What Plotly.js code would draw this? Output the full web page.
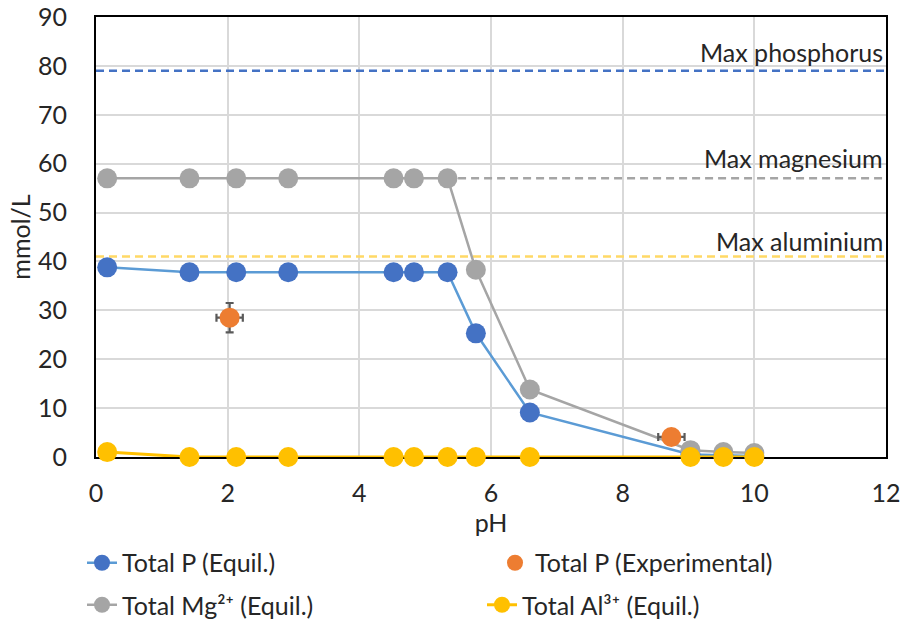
<!DOCTYPE html>
<html>
<head>
<meta charset="utf-8">
<script src="https://cdn.plot.ly/plotly-3.0.1.min.js"></script>
<style>html,body{margin:0;padding:0;background:#fff}#chart{width:903px;height:621px}</style>
</head>
<body>
<div id="chart"></div>
<script>
// Data
const pH = [0.17, 1.42, 2.13, 2.92, 4.52, 4.83, 5.34, 5.77, 6.59, 9.03, 9.53, 10.0];
const totalP = [38.8, 37.8, 37.8, 37.8, 37.8, 37.8, 37.8, 25.3, 9.1, 0.5, 0.3, 0.2];
const totalMg = [57, 57, 57, 57, 57, 57, 57, 38.3, 13.8, 1.4, 1.0, 0.8];
const totalAl = [1.0, 0, 0, 0, 0, 0, 0, 0, 0, 0, 0, 0];
const expPH = [2.03, 8.74];
const expP = [28.5, 4.1];
const expPHerr = [0.2, 0.2];
const expPerr = [3.0, 0.5];
const maxPX = [0, 12], maxPY = [79, 79];
const maxMgX = [5.5, 12], maxMgY = [57, 57];
const maxAlX = [0, 12], maxAlY = [41, 41];
const labels = ["Max phosphorus", "Max magnesium", "Max aluminium"];
const labelY = [82.8, 61.2, 44.2];

const FONT = "Lato, 'Open Sans', sans-serif";
const FS = 25;
const traces = [
  {x: maxPX, y: maxPY, mode: 'lines', line: {color: '#4472C4', width: 2.5, dash: '8px,5px'}, showlegend: false, hoverinfo: 'skip'},
  {x: maxMgX, y: maxMgY, mode: 'lines', line: {color: '#A5A5A5', width: 2.5, dash: '8px,5px'}, showlegend: false, hoverinfo: 'skip'},
  {x: maxAlX, y: maxAlY, mode: 'lines', line: {color: '#FFD966', width: 2.5, dash: '8px,5px'}, showlegend: false, hoverinfo: 'skip'},
  {x: pH, y: totalP, name: 'Total P (Equil.)', mode: 'lines+markers', legend: 'legend', legendrank: 1, cliponaxis: false,
   line: {color: '#5B9BD5', width: 2.5}, marker: {color: '#4472C4', size: 20}},
  {x: pH, y: totalMg, name: 'Total Mg²⁺ (Equil.)', mode: 'lines+markers', legend: 'legend2', legendrank: 1, cliponaxis: false,
   line: {color: '#A5A5A5', width: 2.5}, marker: {color: '#A5A5A5', size: 20}},
  {x: expPH, y: expP, name: 'Total P (Experimental)', mode: 'markers', legend: 'legend', legendrank: 2, cliponaxis: false,
   marker: {color: '#ED7D31', size: 20},
   error_x: {type: 'data', array: expPHerr, color: '#595959', thickness: 2.2, width: 4},
   error_y: {type: 'data', array: expPerr, color: '#595959', thickness: 2.2, width: 4}},
  {x: pH, y: totalAl, name: 'Total Al³⁺ (Equil.)', mode: 'lines+markers', legend: 'legend2', legendrank: 2, cliponaxis: false,
   line: {color: '#FFC000', width: 3}, marker: {color: '#FFC000', size: 20}}
];

const annotations = labels.map((t, i) => ({
  x: 12, y: labelY[i], xref: 'x', yref: 'y', text: t, showarrow: false,
  xanchor: 'right', yanchor: 'middle', xshift: -1,
  font: {family: FONT, size: FS, color: '#262626'}
}));

const legendBase = {
  orientation: 'h', x: -0.0177, xanchor: 'left', yanchor: 'middle',
  itemwidth: 30, tracegroupgap: 0, bgcolor: 'rgba(0,0,0,0)',
  font: {family: FONT, size: FS, color: '#262626'}
};

const layout = {
  width: 903, height: 621,
  margin: {l: 96, r: 17, t: 17, b: 164, autoexpand: false},
  paper_bgcolor: '#fff', plot_bgcolor: '#fff',
  font: {family: FONT, size: FS, color: '#262626'},
  xaxis: {
    range: [0, 12], dtick: 2, tick0: 0, layer: 'below traces',
    showgrid: true, gridcolor: '#D9D9D9', gridwidth: 2,
    showline: true, linecolor: '#000', linewidth: 2, mirror: true,
    zeroline: false, ticks: '', ticklabelstandoff: 13,
    title: {text: 'pH', standoff: 2, font: {family: FONT, size: FS, color: '#262626'}}
  },
  yaxis: {
    range: [0, 90], dtick: 10, tick0: 0, layer: 'below traces',
    showgrid: true, gridcolor: '#D9D9D9', gridwidth: 2,
    showline: true, linecolor: '#000', linewidth: 2, mirror: true,
    zeroline: false, ticks: '', ticklabelstandoff: 22,
    title: {text: 'mmol/L', standoff: 0, font: {family: FONT, size: FS, color: '#262626'}}
  },
  legend: Object.assign({}, legendBase, {y: -0.2409, entrywidth: 368}),
  legend2: Object.assign({}, legendBase, {y: -0.3364, entrywidth: 355}),
  annotations: annotations,
  showlegend: true
};

Plotly.newPlot('chart', traces, layout, {displayModeBar: false, staticPlot: true});
</script>
</body>
</html>
